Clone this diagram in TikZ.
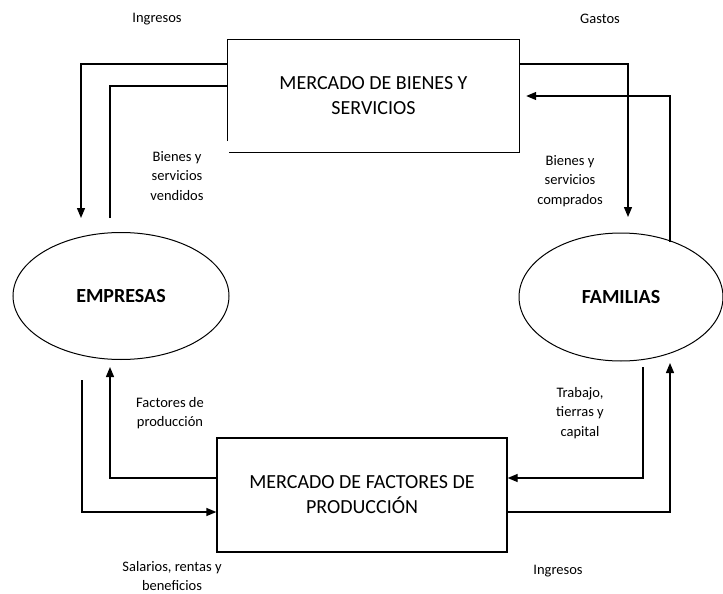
\documentclass[tikz,border=0pt]{standalone}
\usepackage{fontspec}
\setmainfont{Carlito}
\usetikzlibrary{arrows.meta,shapes.geometric}
\tikzset{mercado/.style={rectangle,minimum width=291pt,minimum height=112pt,align=center,
		font=\fontsize{20}{25}\selectfont},
	agente/.style={ellipse,draw,line width=1pt,inner sep=0pt,font=\bfseries\fontsize{20}{24}\selectfont},
	etiqueta/.style={align=center,font=\fontsize{14.5}{19.5}\selectfont},
	flujo/.style={draw,line width=1.3pt},
	flecha/.style={flujo,-{Triangle[length=10pt,width=8pt]}}}

\begin{document}
\begin{tikzpicture}[x=1pt,y=-1pt]
\useasboundingbox (0,0) rectangle (723,594);
\node[mercado] (bienes) at (373.5,96) {MERCADO DE BIENES Y\\SERVICIOS};
\node[mercado,draw,line width=1.3pt,minimum width=290pt,minimum height=114pt] (factores) at (362,495) {MERCADO DE FACTORES DE\\PRODUCCIÓN};
\node[agente,minimum width=216pt,minimum height=127pt] (empresas) at (121,296) {EMPRESAS};
\node[agente,minimum width=204pt,minimum height=128pt] (familias) at (621,297) {FAMILIAS};
\draw[line width=1.3pt] ([yshift=11pt]bienes.south west) -- (bienes.north west) -- (bienes.north east)
	-- (bienes.south east) -- ([xshift=1pt]bienes.south west);

% mercado de bienes y servicios
\coordinate (ingE) at (81,218);
\coordinate (venE) at (110,218);
\coordinate (gasF) at (628,217);
\coordinate (comF) at (670,242);
\draw[flecha] (bienes.west |- 0,64) -| (ingE);
\draw[flujo] (venE) |- (bienes.west |- 0,86);
\draw[flecha] (bienes.east |- 0,64) -| (gasF);
\draw[flecha,shorten >=7pt] (comF) |- (bienes.east |- 0,96);

% mercado de factores
\coordinate (facE) at (110,367);
\coordinate (salE) at (82,380);
\coordinate (traF) at (643,367);
\coordinate (ingF) at (670,363);
\draw[flecha] (factores.west |- 0,478) -| (facE);
\draw[flecha] (salE) |- (factores.west |- 0,512);
\draw[flecha] (traF) |- (factores.east |- 0,478);
\draw[flecha] (factores.east |- 0,512) -| (ingF);

\node[etiqueta] (ingresosE) at (157,19) {Ingresos};
\node[etiqueta] (gastos) at (600,19) {Gastos};
\node[etiqueta] (vendidos) at (177,176) {Bienes y\\servicios\\vendidos};
\node[etiqueta] (comprados) at (570,181) {Bienes y\\servicios\\comprados};
\node[etiqueta] (factoresE) at (170,413) {Factores de\\producción};
\node[etiqueta] (trabajo) at (580,413) {Trabajo,\\tierras y\\capital};
\node[etiqueta] (salarios) at (172,576) {Salarios, rentas y\\beneficios};
\node[etiqueta] (ingresosF) at (558,571) {Ingresos};
\end{tikzpicture}
\end{document}
